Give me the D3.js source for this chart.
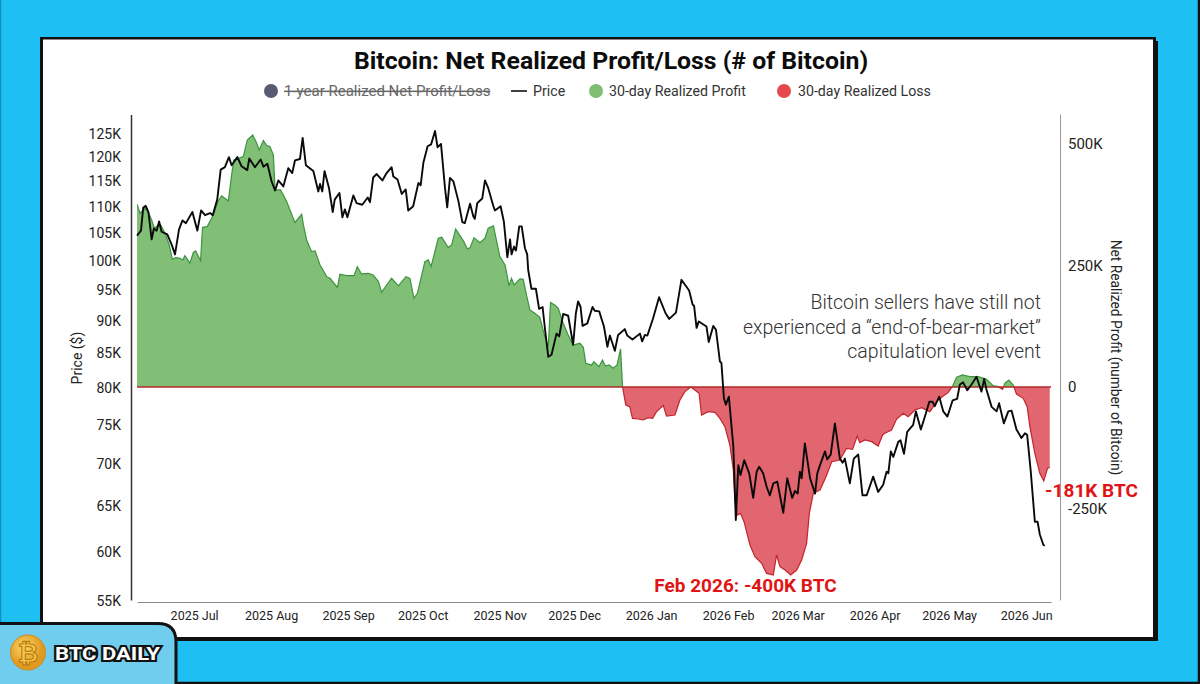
<!DOCTYPE html>
<html><head><meta charset="utf-8">
<script src="https://cdn.jsdelivr.net/npm/d3@7"></script>
<style>html,body{margin:0;padding:0;background:#1EC0F4;overflow:hidden}svg{display:block}text{font-family:Roboto,sans-serif}</style>
</head><body><svg id="c" width="1200" height="684"></svg>
<script>
const startDate = Date.UTC(2025,5,8);
const priceDays = [0,1.6,2.5,3.5,4.6,5.9,6.8,7.9,8.9,9.9,12.2,14,15.3,16.9,18.3,19.7,22.3,24.3,25.8,27.4,29.4,30.5,32.3,33.7,35.4,37,38.1,40.4,42.1,44.4,45.2,47.5,49.8,50.9,52.5,54.2,55.6,56.9,58.9,60.9,62.5,63.6,65.6,66.7,68,71,73,73.7,74.6,75.5,77.3,78.8,79.6,81.5,82.7,83.7,84.7,87.1,88.4,90.7,92.9,93.8,95.1,96.5,98.8,100.5,102.5,103.2,104.9,106.6,108.2,109.2,111.2,113.3,114.2,115.3,117,118.4,120,121,122.4,124,124.9,126,127.4,129.4,131,132,134.1,135.4,136,137,139,140.1,141.4,143.5,144.1,146.4,147.7,149.1,150.2,150.8,151.8,152.6,153.9,154.9,156.2,157.1,157.5,158.8,160.6,161.9,163.3,164.3,165.6,166.9,168.9,170,171.6,173.6,175.6,176.7,177.6,178.6,179.4,181.3,183.4,184.3,186.1,188,189.4,190.4,192.4,193.7,196.4,197.4,199.5,202.5,203.4,204.5,205.5,207.8,210.2,212.8,214.3,217,219.2,222.3,223.7,224.3,225.3,226.2,229.3,230.2,232,233.1,234.7,235.3,236.3,237.1,238.3,240.1,241.1,242.1,243,244.5,246.5,248.1,249.5,250.5,252.1,253.5,254.8,256.2,257.8,260.2,261.8,263.8,264.9,266,266.9,267.6,268.9,271,273,273.9,275,277,277.9,279.3,281,283,284.1,285,287,288.6,290.4,292.1,293.8,296.4,298.4,300.4,301.8,302.5,303.5,304.5,306.5,307.4,308.8,310.1,312.5,313.6,315.6,317.6,319,320.3,321.2,323,324.6,326.3,328.4,330.2,331.3,332.6,334.3,336,338,340,341.1,342,344.1,346.1,347.1,349,350.8,352.1,354.1,356.1,357.5,358.4,359.8,361.5,362.6,363.5,364.9,365.5];
const priceValues = [104.3,105.2,109.5,109.9,108.7,103.6,105.6,105.2,106.9,105,104.5,102.6,100.9,105.4,107.1,106.6,108.7,105.2,109,108.1,108.5,108.1,111.1,117.1,117.6,119.7,118,119.7,117.8,117,119.4,117.6,119.2,117.7,118.3,114.7,112.9,114.9,113.7,117.4,116.4,119,119.3,123.8,118,116.8,112.7,114.2,112.7,116.8,113.4,108.7,111.1,112.4,107.7,109.2,107.7,111.9,110.4,110.1,111.5,110.6,115.5,116.2,114.9,116.4,117.6,115.7,115.1,112.2,113.1,109,109.8,114.4,113.9,118.5,122,122.4,125.3,121.8,122.5,113.4,109.6,115.4,114.7,110.8,106.8,106.6,110.3,107.9,107.4,110.4,111.3,114.9,113.4,109.8,109,109.8,106.9,100.4,103.6,100.9,102.3,101.6,106,106,102,100.9,98.2,95,95,91.7,92,88.4,84.3,84.6,87.8,87.4,90.9,90.6,86.1,91,92.9,92,89,89.4,92,91.4,91.3,88.9,85.8,87.5,85.2,87.6,88.5,87.5,86.9,87.8,86.6,87.6,87.5,90.2,93.6,91,90.1,91.1,96.5,94.7,92.4,92.2,88.7,89.7,88.9,86.5,89,88.4,83.6,83.4,78.4,77.5,78.6,72,63.3,69.7,68.5,70.3,68.7,65.8,68.9,69.5,68.7,67.1,66.1,67.5,67.7,64.1,68.1,65.8,66.6,66.3,68.9,68.1,72.4,68.1,66.3,68.7,69.7,71.4,70.4,71,75,70.5,70,70.5,67.5,70.5,71,66.1,66.1,68.3,66.5,67.3,68.9,68.7,71.4,70.7,72.6,72.8,71.1,73.9,74.8,76.6,74.2,76.3,77.9,77.9,77.3,78.6,76.6,75.9,78.1,78.3,80.3,80.6,79.5,80.3,81.4,79.3,81.1,79.6,77.2,76.6,77.7,75,76.6,76.7,74.2,73.1,73.7,73.5,69.1,63.1,63.1,61.7,60.6,60.5];
const netDays = [0,1.2,3.2,4.6,5.9,7,8.6,9.5,11.3,13,14.2,15.7,17.3,18.4,19.3,21.3,22.7,23.6,25.6,26.4,28.3,30.7,32.7,34.1,36.8,38.1,39,42.8,44.4,46.6,47.9,49.2,50.9,52.2,53.5,54.9,55.6,57.8,60.3,61.6,63.6,66.3,67,68.3,70.3,71.7,73.7,76.4,77.7,80.7,81.7,84.4,87.4,88.7,90.4,93.1,95.1,97.2,98.5,100.5,102.5,105.2,108.3,109.9,111.5,112.9,115.9,117.3,118.4,121.3,122.7,125.3,126.7,128.3,131.6,133,134.1,135.7,138.1,140.1,141.4,143.5,146.1,148.2,149.8,150.8,151.8,154.2,155.5,156.8,158.2,160.2,162.2,164.2,165.6,166.5,168.2,169.6,171.6,173.6,175.6,178.3,179.7,180.7,183,184,186,187.4,188.6,190.1,191.7,193.3,194.7,195.5,196.8,198.4,199.5,201.8,203.8,205.8,207.6,209.2,211.9,213.2,216.6,218.6,220.6,223,226.3,227.3,230,232.7,234.7,236.7,238.7,240.1,240.7,241.7,243,244.4,246.8,248.8,251.5,253.5,256.2,257.5,258.9,260.9,263.2,265.6,267.6,269.6,270.7,272.3,275,277.4,279.7,283,285.7,288.1,290,291,293.1,295.8,298.4,300.2,301.1,303.8,305.8,308.5,310.5,313.2,315.9,319.2,322.6,324.6,326.6,328.4,330,332.4,335.3,338.7,342,344.7,346.7,348.5,349.4,351,352.8,354.1,356.8,358.4,359.5,361.5,363.5,365.1,366.6,367.5];
const netValues = [375.9,357.4,367.7,359.5,343.7,326.5,333.4,333.4,316.2,292.2,263.4,266.2,264.8,261.4,270.3,254.5,277.1,279.9,260,328.6,330,354,382.8,393.1,382.8,436.3,467.2,474,508.3,518.6,504.9,487.7,507,496.7,494.6,477.5,405.4,405.4,381.4,364.3,338.2,355.4,333.4,302.5,278.5,279.9,251,227,223.6,205.1,231.9,229.1,229.1,247.6,232.6,233.9,230.5,216.8,194.8,209.9,223.6,207.9,227,223.6,182.5,192.8,257.9,261.4,247.6,306,308,286.8,292.2,325.2,299.1,284,286.8,307.3,297,306,326.5,331.3,268.2,251,207.9,223.6,209.9,222.3,221.6,189.3,158.5,151.6,143.4,103.6,83,173.6,168.7,161.9,131,107,86.4,89.9,81.6,48.7,45.3,52.1,41.8,55.6,43.2,45.3,38.4,45.3,78.2,0,-37,-40.5,-64.5,-65.9,-67.9,-63.1,-64.5,-50.8,-38.4,-59.7,-57.6,-26.8,-9.6,0,-13,-57.6,-50.8,-52.1,-64.5,-81.6,-119.4,-170.8,-232.6,-263.4,-260,-277.2,-325.2,-349.2,-362.9,-383.5,-386.9,-345.8,-369.8,-376.6,-386.9,-376.6,-356,-321.7,-260,-218.8,-212,-184.5,-153.7,-150.2,-126.2,-128.3,-100.8,-114.6,-109.1,-112.5,-121.4,-98.8,-95.3,-88.5,-66.5,-54.2,-61,-47.3,-42.5,-50.8,-26.7,-18.5,-11.6,2,19.9,24.7,21.3,21.3,15.8,2.8,0.7,-4.8,7.6,14.4,4.1,-14.4,-23.3,-40.5,-81.6,-136.5,-177.7,-193.4,-167.4,-165.3];
const priceTicks = [55,60,65,70,75,80,85,90,95,100,105,110,115,120,125];
const netTicks = [500,250,0,-250];
const monthTicks = [[2025,6,"2025 Jul"],[2025,7,"2025 Aug"],[2025,8,"2025 Sep"],[2025,9,"2025 Oct"],[2025,10,"2025 Nov"],[2025,11,"2025 Dec"],[2026,0,"2026 Jan"],[2026,1,"2026 Feb"],[2026,2,"2026 Mar"],[2026,3,"2026 Apr"],[2026,4,"2026 May"],[2026,5,"2026 Jun"]];
const legendEntries = ["1-year Realized Net Profit/Loss","Price","30-day Realized Profit","30-day Realized Loss"];
const noteLines = ["Bitcoin sellers have still not","experienced a “end-of-bear-market”","capitulation level event"];

const svg = d3.select("#c");
const day = d => new Date(startDate + d*864e5);
const x = d3.scaleUtc().domain([day(0),day(368)]).range([137,1051]);
const yP = d3.scaleLog().domain([55,129]).range([600,114.5]);
const yN = d3.scaleLinear().domain([-438.3,561.7]).range([600,114]);

// frame
svg.append("line").attr("x1",0.5).attr("x2",0.5).attr("y1",0).attr("y2",684).attr("stroke","#1590BE").attr("stroke-width",1.5);
svg.append("path").attr("d","M0,683 H1199 V0").attr("fill","none").attr("stroke","#111").attr("stroke-width",2.5);
svg.append("rect").attr("x",43).attr("y",41).attr("width",1115).attr("height",600).attr("fill","#111");
svg.append("rect").attr("x",40).attr("y",37).attr("width",1116).attr("height",603).attr("fill","#111");
svg.append("rect").attr("x",43).attr("y",39.5).attr("width",1110).attr("height",597.5).attr("fill","#fff");

// title
svg.append("text").attr("x",611).attr("y",69).attr("text-anchor","middle").attr("font-size",24.8).attr("font-weight",700).attr("fill","#0c0c0c").text("Bitcoin: Net Realized Profit/Loss (# of Bitcoin)");

// legend
const lg = svg.append("g").attr("font-size",14.2).attr("fill","#333");
lg.append("circle").attr("cx",271).attr("cy",91).attr("r",7).attr("fill","#5A5A75");
lg.append("text").attr("x",284).attr("y",96).attr("font-size",15).attr("fill","#666").attr("text-decoration","line-through").text(legendEntries[0]);
lg.append("line").attr("x1",511).attr("x2",527).attr("y1",91).attr("y2",91).attr("stroke","#111").attr("stroke-width",1.6);
lg.append("text").attr("x",533).attr("y",96).text(legendEntries[1]);
lg.append("circle").attr("cx",596).attr("cy",91).attr("r",7).attr("fill","#7DBE72");
lg.append("text").attr("x",609).attr("y",96).text(legendEntries[2]);
lg.append("circle").attr("cx",784).attr("cy",91).attr("r",7).attr("fill","#E5484D");
lg.append("text").attr("x",798).attr("y",96).text(legendEntries[3]);

// areas
const netData = netDays.map((d,i)=>({d,v:netValues[i]}));
const priceData = priceDays.map((d,i)=>({d,v:priceValues[i]}));
const defs = svg.append("defs");
defs.append("clipPath").attr("id","above").append("rect").attr("x",x.range()[0]).attr("width",x.range()[1]-x.range()[0]).attr("y",100).attr("height",yN(0)-100);
defs.append("clipPath").attr("id","below").append("rect").attr("x",x.range()[0]).attr("width",x.range()[1]-x.range()[0]).attr("y",yN(0)).attr("height",600-yN(0));
const grad = defs.append("radialGradient").attr("id","coin").attr("cx","40%").attr("cy","35%");
grad.append("stop").attr("offset","0%").attr("stop-color","#FBD96A");
grad.append("stop").attr("offset","100%").attr("stop-color","#E09A20");

const area = d3.area().x(p=>x(day(p.d))).y0(yN(0)).y1(p=>yN(p.v));
const line = d3.line().x(p=>x(day(p.d))).y(p=>yN(p.v));
const up = svg.append("g").attr("clip-path","url(#above)");
up.append("path").attr("d",area(netData)).attr("fill","#81BE76");
up.append("path").attr("d",line(netData)).attr("fill","none").attr("stroke","#3C9440").attr("stroke-width",1.2);
const dn = svg.append("g").attr("clip-path","url(#below)");
dn.append("path").attr("d",area(netData)).attr("fill","#E1666F");
dn.append("path").attr("d",line(netData)).attr("fill","none").attr("stroke","#C4242C").attr("stroke-width",1.2);
svg.append("line").attr("x1",x.range()[0]).attr("x2",x.range()[1]).attr("y1",yN(0)).attr("y2",yN(0)).attr("stroke","#B02A2A").attr("stroke-width",1.6);

// price line
svg.append("path").attr("d",d3.line().x(p=>x(day(p.d))).y(p=>yP(p.v))(priceData)).attr("fill","none").attr("stroke","#0a0a0a").attr("stroke-width",1.9).attr("stroke-linejoin","round");

// axes
const fk = v => v===0 ? "0" : v+"K";
const left = svg.append("g").attr("transform","translate(131,0)")
  .call(d3.axisLeft(yP).tickValues(priceTicks).tickFormat(fk).tickSize(0).tickPadding(10));
left.select(".domain").attr("stroke","#333").attr("stroke-width",1.5);
left.selectAll("text").attr("font-size",14).attr("fill","#222").attr("font-family","Roboto").attr("dy","0.42em");
const right = svg.append("g").attr("transform","translate(1060,0)")
  .call(d3.axisRight(yN).tickValues(netTicks).tickFormat(fk).tickSize(0).tickPadding(8));
right.select(".domain").attr("stroke","#999").attr("stroke-width",1);
right.selectAll("text").attr("font-size",15).attr("fill","#222").attr("font-family","Roboto");
const bottom = svg.append("g").attr("transform","translate(0,602)")
  .call(d3.axisBottom(x).tickValues(monthTicks.map(m=>new Date(Date.UTC(m[0],m[1],1)))).tickFormat((d,i)=>monthTicks[i][2]).tickSize(0).tickPadding(9));
bottom.select(".domain").attr("stroke","#888").attr("stroke-width",1);
bottom.selectAll("text").attr("font-size",12.5).attr("fill","#222").attr("font-family","Roboto");

svg.append("text").attr("transform","translate(82,358) rotate(-90)").attr("text-anchor","middle").attr("font-size",14).attr("fill","#222").text("Price ($)");
svg.append("text").attr("transform","translate(1111,357.5) rotate(90)").attr("text-anchor","middle").attr("font-size",13.8).attr("fill","#222").text("Net Realized Profit (number of Bitcoin)");

// annotations
svg.append("g").attr("font-size",19.5).attr("font-weight",300).attr("fill","#333").attr("text-anchor","end")
  .selectAll("text").data(noteLines).join("text").attr("x",1041).attr("y",(d,i)=>309+i*24.5).text(d=>d);
svg.append("text").attr("x",745.5).attr("y",591.5).attr("text-anchor","middle").attr("font-size",19).attr("font-weight",700).attr("fill","#E01414").text("Feb 2026: -400K BTC");
svg.append("text").attr("x",1091.5).attr("y",497).attr("text-anchor","middle").attr("font-size",19).attr("font-weight",700).attr("fill","#E01414").text("-181K BTC");

// badge
svg.append("path").attr("d","M-4,623.5 H158 Q176,623.5 176,642 V688 H-4 Z").attr("fill","#70CDEE").attr("stroke","#111").attr("stroke-width",3);
svg.append("circle").attr("cx",28).attr("cy",652.5).attr("r",17.5).attr("fill","url(#coin)").attr("stroke","#D08A18").attr("stroke-width",1);
svg.append("text").attr("x",28).attr("y",661.5).attr("text-anchor","middle").attr("font-size",25).attr("font-weight",700).attr("font-family","'DejaVu Sans'").attr("fill","#F5C445").attr("stroke","#B87412").attr("stroke-width",1).text("₿");
const brand = svg.append("text").attr("x",55).attr("y",660).attr("font-size",19).attr("font-weight",700).attr("font-family","'DejaVu Sans Mono'").attr("fill","#fff").attr("stroke","#111").attr("stroke-width",4).attr("stroke-linejoin","miter").attr("paint-order","stroke").attr("textLength",105).attr("lengthAdjust","spacingAndGlyphs").text("BTC DAILY");
</script></body></html>
